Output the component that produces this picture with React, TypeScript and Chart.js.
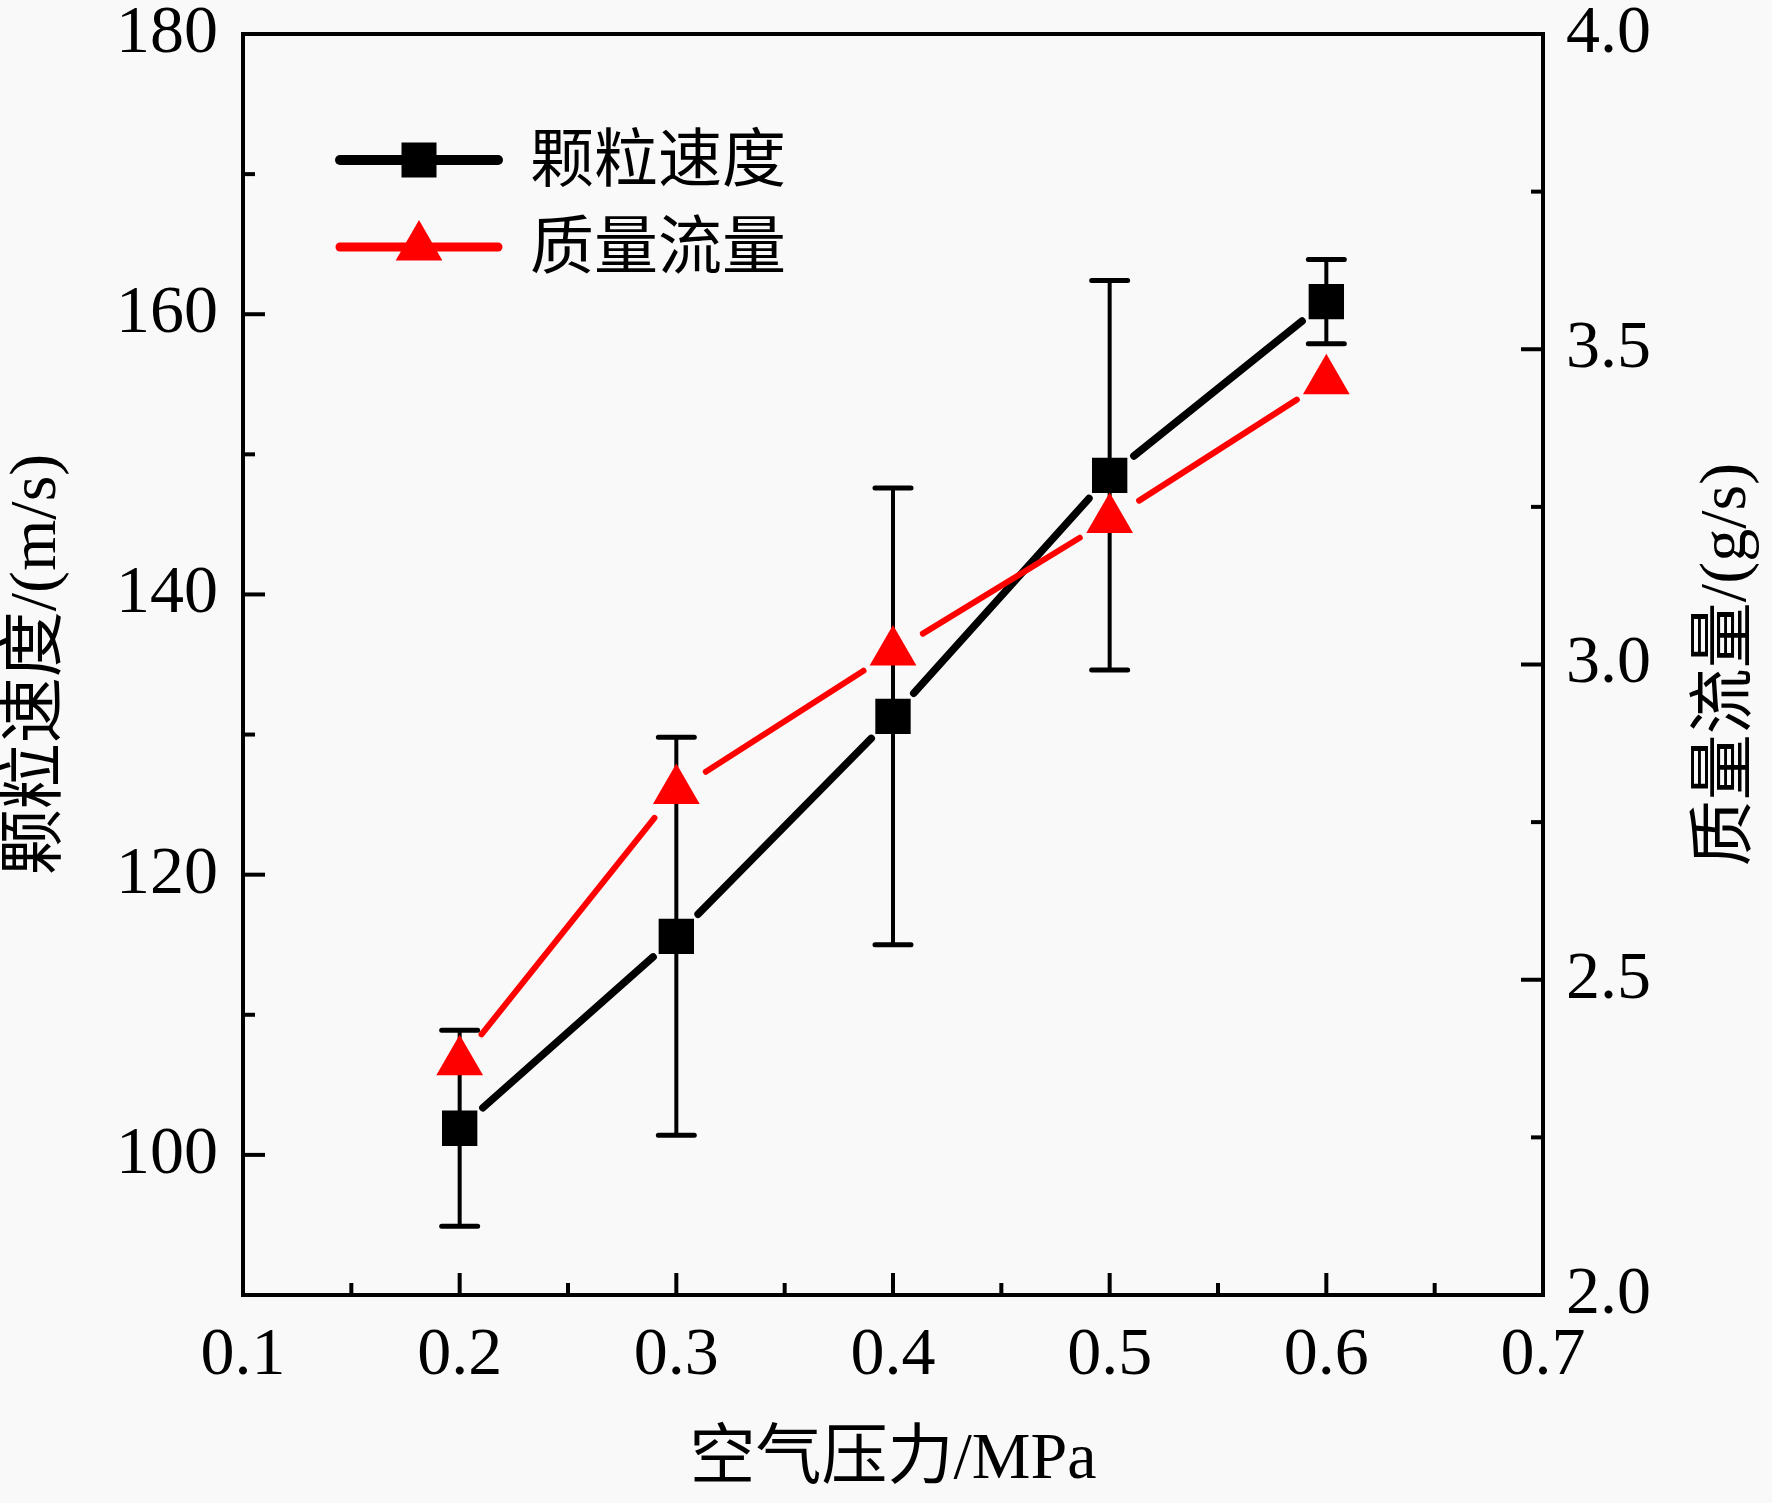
import React, { useEffect, useRef } from 'react';
import { Chart, registerables } from 'chart.js';

Chart.register(...registerables);

// ---- data ----
const pressure = [0.2, 0.3, 0.4, 0.5, 0.6];
const particleSpeed = [101.9, 115.6, 131.3, 148.5, 160.9];
const speedError = [7.0, 14.2, 16.3, 13.9, 3.0];
const massFlow = [2.37, 2.8, 3.02, 3.23, 3.45];

const seriesLabels = ['颗粒速度', '质量流量'];
const xTitle = '空气压力/MPa';
const yLeftTitle = '颗粒速度/(m/s)';
const yRightTitle = '质量流量/(g/s)';

const xTicks = [0.1, 0.2, 0.3, 0.4, 0.5, 0.6, 0.7];
const yLeftTicks = [100, 120, 140, 160, 180];
const yRightTicks = [2.0, 2.5, 3.0, 3.5, 4.0];
const xRange = [0.1, 0.7];
const yLeftRange = [90, 180];
const yRightRange = [2.0, 4.0];

// ---- styles ----
const BLACK = '#000000';
const RED = '#ff0000';
const SERIF = '"Liberation Serif", "Times New Roman", serif';
const MIXED = '"Liberation Serif", "Noto Sans CJK SC", serif';
const CJK = '"Noto Sans CJK SC", "Liberation Serif", sans-serif';

const minors = (arr: number[]) => {
  const out: number[] = [];
  for (let i = 0; i < arr.length - 1; i++) out.push((arr[i] + arr[i + 1]) / 2);
  return out;
};

function drawGappedLine(ctx: CanvasRenderingContext2D, pts: { x: number; y: number }[], gap: number, color: string, width: number) {
  ctx.save();
  ctx.strokeStyle = color;
  ctx.lineWidth = width;
  ctx.lineCap = 'round';
  for (let i = 0; i < pts.length - 1; i++) {
    const a = pts[i];
    const b = pts[i + 1];
    const dx = b.x - a.x;
    const dy = b.y - a.y;
    const len = Math.hypot(dx, dy);
    if (len <= 2 * gap) continue;
    const ux = dx / len;
    const uy = dy / len;
    ctx.beginPath();
    ctx.moveTo(a.x + ux * gap, a.y + uy * gap);
    ctx.lineTo(b.x - ux * gap, b.y - uy * gap);
    ctx.stroke();
  }
  ctx.restore();
}

function drawTriangle(ctx: CanvasRenderingContext2D, x: number, y: number, r: number, color: string) {
  ctx.save();
  ctx.fillStyle = color;
  ctx.beginPath();
  let rad = 0;
  ctx.moveTo(x + Math.sin(rad) * r, y - Math.cos(rad) * r);
  rad += (2 * Math.PI) / 3;
  ctx.lineTo(x + Math.sin(rad) * r, y - Math.cos(rad) * r);
  rad += (2 * Math.PI) / 3;
  ctx.lineTo(x + Math.sin(rad) * r, y - Math.cos(rad) * r);
  ctx.closePath();
  ctx.fill();
  ctx.restore();
}

const customPlugin = {
  id: 'originStyle',
  beforeDatasetDraw(chart: any, args: any) {
    const ctx: CanvasRenderingContext2D = chart.ctx;
    const meta = args.meta;
    const pts = meta.data.map((p: any) => ({ x: p.x, y: p.y }));
    if (args.index === 0) {
      // error bars
      const ys = chart.scales.y;
      ctx.save();
      ctx.strokeStyle = BLACK;
      pts.forEach((p: any, i: number) => {
        const top = ys.getPixelForValue(particleSpeed[i] + speedError[i]);
        const bot = ys.getPixelForValue(particleSpeed[i] - speedError[i]);
        ctx.lineWidth = 4;
        ctx.lineCap = 'butt';
        ctx.beginPath();
        ctx.moveTo(p.x, top);
        ctx.lineTo(p.x, bot);
        ctx.stroke();
        ctx.lineWidth = 5;
        ctx.lineCap = 'round';
        ctx.beginPath();
        ctx.moveTo(p.x - 18, top);
        ctx.lineTo(p.x + 18, top);
        ctx.moveTo(p.x - 18, bot);
        ctx.lineTo(p.x + 18, bot);
        ctx.stroke();
      });
      ctx.restore();
      drawGappedLine(ctx, pts, 31, BLACK, 7.5);
    } else {
      drawGappedLine(ctx, pts, 35, RED, 6);
    }
  },
  afterDatasetsDraw(chart: any) {
    const ctx: CanvasRenderingContext2D = chart.ctx;
    const { left, right, top, bottom } = chart.chartArea;
    const { x, y, y1 } = chart.scales;
    ctx.save();
    ctx.strokeStyle = BLACK;
    // ticks
    const MAJ = 22;
    const MIN = 12;
    ctx.lineWidth = 4;
    ctx.lineCap = 'butt';
    const tickSet = (vals: number[], len: number) => {
      vals.forEach((v) => {
        const px = x.getPixelForValue(v);
        ctx.beginPath();
        ctx.moveTo(px, bottom);
        ctx.lineTo(px, bottom - len);
        ctx.stroke();
      });
    };
    tickSet(xTicks, MAJ);
    tickSet(minors(xTicks), MIN);
    const leftSet = (vals: number[], len: number) => {
      vals.forEach((v) => {
        const py = y.getPixelForValue(v);
        ctx.beginPath();
        ctx.moveTo(left, py);
        ctx.lineTo(left + len, py);
        ctx.stroke();
      });
    };
    leftSet(yLeftTicks, MAJ);
    leftSet(minors(yLeftTicks), MIN);
    const rightSet = (vals: number[], len: number) => {
      vals.forEach((v) => {
        const py = y1.getPixelForValue(v);
        ctx.beginPath();
        ctx.moveTo(right, py);
        ctx.lineTo(right - len, py);
        ctx.stroke();
      });
    };
    rightSet(yRightTicks, MAJ);
    rightSet(minors(yRightTicks), MIN);
    // frame
    ctx.lineWidth = 4;
    ctx.lineJoin = 'miter';
    ctx.strokeRect(left, top, right - left, bottom - top);

    // legend
    const ds = chart.data.datasets;
    const rows = [
      { y: top + 126, color: BLACK, lw: 10, shape: 'rect', label: ds[0].label },
      { y: top + 213, color: RED, lw: 9, shape: 'tri', label: ds[1].label },
    ];
    rows.forEach((r) => {
      ctx.save();
      ctx.strokeStyle = r.color;
      ctx.lineWidth = r.lw;
      ctx.lineCap = 'round';
      ctx.beginPath();
      ctx.moveTo(left + 97, r.y);
      ctx.lineTo(left + 255, r.y);
      ctx.stroke();
      const mx = left + 176;
      if (r.shape === 'rect') {
        ctx.fillStyle = r.color;
        ctx.fillRect(mx - 17.5, r.y - 17.5, 35, 35);
      } else {
        drawTriangle(ctx, mx, r.y, 27, r.color);
      }
      ctx.fillStyle = BLACK;
      ctx.font = `64px ${CJK}`;
      ctx.textAlign = 'left';
      ctx.textBaseline = 'middle';
      ctx.fillText(r.label, left + 287, r.y - 3);
      ctx.restore();
    });

    // axis titles
    ctx.fillStyle = BLACK;
    ctx.font = `66px ${MIXED}`;
    ctx.textAlign = 'center';
    ctx.textBaseline = 'middle';
    ctx.fillText(xTitle, (left + right) / 2, bottom + 166);
    const cy = (top + bottom) / 2;
    ctx.save();
    ctx.translate(38, cy);
    ctx.rotate(-Math.PI / 2);
    ctx.fillText(yLeftTitle, 0, 0);
    ctx.restore();
    ctx.save();
    ctx.translate(right + 185, cy);
    ctx.rotate(-Math.PI / 2);
    ctx.fillText(yRightTitle, 0, 0);
    ctx.restore();
    ctx.restore();
  },
};

const zeroPad = (scale: any) => {
  scale.paddingTop = 0;
  scale.paddingBottom = 0;
  scale.paddingLeft = 0;
  scale.paddingRight = 0;
};

export default function App() {
  const ref = useRef<HTMLCanvasElement>(null);
  useEffect(() => {
    document.body.style.margin = '0';
    const tickFont = { family: SERIF, size: 68, lineHeight: 1 };
    const chart = new Chart(ref.current as HTMLCanvasElement, {
      type: 'line',
      data: {
        datasets: [
          {
            label: seriesLabels[0],
            data: pressure.map((p, i) => ({ x: p, y: particleSpeed[i] })),
            yAxisID: 'y',
            showLine: false,
            pointStyle: 'rect',
            pointRadius: 25,
            pointHoverRadius: 25,
            pointBackgroundColor: BLACK,
            pointBorderColor: BLACK,
            pointBorderWidth: 0,
            borderColor: BLACK,
            order: 2,
          },
          {
            label: seriesLabels[1],
            data: pressure.map((p, i) => ({ x: p, y: massFlow[i] })),
            yAxisID: 'y1',
            showLine: false,
            pointStyle: 'triangle',
            pointRadius: 27,
            pointHoverRadius: 27,
            pointBackgroundColor: RED,
            pointBorderColor: RED,
            pointBorderWidth: 0,
            borderColor: RED,
            order: 1,
          },
        ],
      },
      options: {
        animation: false,
        responsive: true,
        maintainAspectRatio: false,
        events: [],
        layout: { padding: { top: 34, left: 0, right: 0, bottom: 0 } },
        plugins: {
          legend: { display: false },
          tooltip: { enabled: false },
        },
        scales: {
          x: {
            type: 'linear',
            position: 'bottom',
            min: xRange[0],
            max: xRange[1],
            afterBuildTicks: (s: any) => {
              s.ticks = xTicks.map((v) => ({ value: v }));
            },
            afterFit: (s: any) => {
              s.height = 208;
              zeroPad(s);
            },
            grid: { display: true, drawOnChartArea: false, drawTicks: false },
            border: { display: false },
            ticks: {
              font: tickFont,
              color: BLACK,
              padding: 27,
              maxRotation: 0,
              autoSkip: false,
              callback: (v: any) => Number(v).toFixed(1),
            },
          },
          y: {
            type: 'linear',
            position: 'left',
            min: yLeftRange[0],
            max: yLeftRange[1],
            afterBuildTicks: (s: any) => {
              s.ticks = yLeftTicks.map((v) => ({ value: v }));
            },
            afterFit: (s: any) => {
              s.width = 243;
              zeroPad(s);
            },
            grid: { display: true, drawOnChartArea: false, drawTicks: false },
            border: { display: false },
            ticks: {
              font: tickFont,
              color: BLACK,
              padding: 25,
              autoSkip: false,
              callback: (v: any) => String(Math.round(Number(v))),
            },
          },
          y1: {
            type: 'linear',
            position: 'right',
            min: yRightRange[0],
            max: yRightRange[1],
            afterBuildTicks: (s: any) => {
              s.ticks = yRightTicks.map((v) => ({ value: v }));
            },
            afterFit: (s: any) => {
              s.width = 229;
              zeroPad(s);
            },
            grid: { display: true, drawOnChartArea: false, drawTicks: false },
            border: { display: false },
            ticks: {
              font: tickFont,
              color: BLACK,
              padding: 23,
              autoSkip: false,
              callback: (v: any) => Number(v).toFixed(1),
            },
          },
        },
      },
      plugins: [customPlugin],
    } as any);
    return () => chart.destroy();
  }, []);
  return (
    <div style={{ position: 'fixed', left: 0, top: 0, width: 1772, height: 1503, background: '#f9f9f9' }}>
      <canvas ref={ref} />
    </div>
  );
}
